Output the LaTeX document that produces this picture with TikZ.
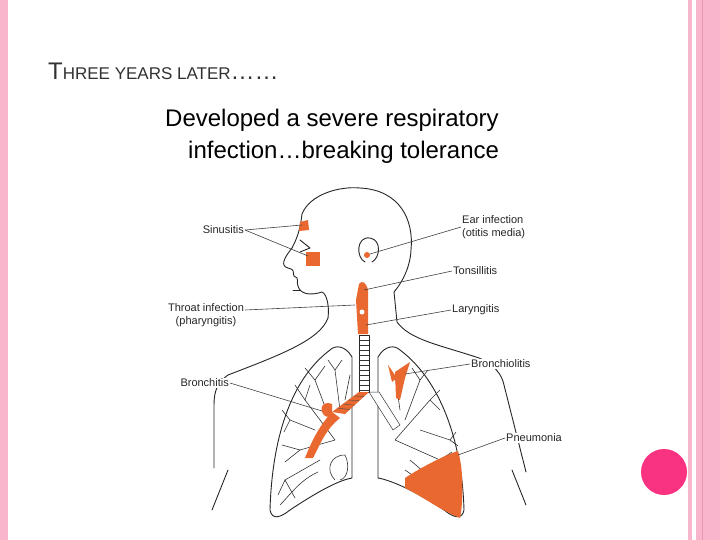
\documentclass[tikz,border=0pt]{standalone}
\usepackage{fontspec}
\usetikzlibrary{calc}
\setmainfont{Liberation Sans}
\definecolor{pinkb}{RGB}{248,182,204}
\definecolor{pinkd}{RGB}{236,150,180}
\definecolor{dotc}{RGB}{250,50,130}
\definecolor{inf}{RGB}{232,104,48}
\definecolor{ttl}{RGB}{50,50,50}
\begin{document}
\begin{tikzpicture}[x=1pt,y=-1pt,
  lbl/.style={font=\fontsize{11}{12.5}\selectfont, inner sep=1pt, text=black!85, fill=white},
  lead/.style={draw=black!75, line width=0.6pt},
  body/.style={draw=black!85, line width=0.9pt, line join=round, line cap=round},
  twig/.style={draw=black!80, line width=0.6pt, line cap=round},
  spot/.style={fill=inf, draw=none}]
\useasboundingbox (0,0) rectangle (720,540);
\fill[white] (0,0) rectangle (720,540);
% borders
\fill[pinkb] (0,0) rectangle (8,540);
\fill[pinkb] (688,0) rectangle (692,540);
\fill[pinkb] (696,0) rectangle (720,540);
\draw[pinkd, line width=1pt] (702,0) -- (702,540);
\fill[dotc] (664,472) circle (23);
% title
\node[anchor=base west, inner sep=0, text=ttl] (title) at (48,80)
 {\fontsize{24}{26}\selectfont T\fontsize{17}{18}\selectfont HREE YEARS LATER\fontsize{24}{26}\selectfont……};
\node[anchor=base west, inner sep=0, font=\fontsize{24}{26}\selectfont] (l1) at (165,127) {Developed a severe respiratory};
\node[anchor=base west, inner sep=0, font=\fontsize{24}{26}\selectfont] (l2) at (188,159) {infection…breaking tolerance};
% body outline
\draw[body] (328,318) .. controls (330,300) and (324,292) .. (322,292)
  .. controls (310,296) and (300,294) .. (298,286)
  .. controls (296,282) and (300,278) .. (294,276)
  .. controls (292,272) and (296,270) .. (288,268)
  .. controls (280,266) and (284,258) .. (292,248)
  .. controls (296,240) and (300,232) .. (302,214)
  .. controls (310,194) and (340,186) .. (360,188)
  .. controls (400,190) and (414,220) .. (411,250)
  .. controls (410,270) and (400,285) .. (394,292)
  -- (397,322) .. controls (410,340) and (440,345) .. (479,358)
  .. controls (495,365) and (502,375) .. (504,385) -- (526,472);
\draw[body] (328,318) .. controls (320,340) and (280,355) .. (228,375)
  .. controls (218,382) and (214,390) .. (214,405) -- (214,468);
\draw[body] (228,470) -- (212,510);
\draw[body] (512,470) -- (526,505);
% ear
\draw[body] (365,262) .. controls (356,258) and (356,236) .. (370,238) .. controls (382,240) and (380,258) .. (372,262);
% eye
\draw[body] (300,240) -- (310,248) -- (300,252);
\draw[body] (293,290) -- (300,290);
% lungs
\draw[body] (352,357) .. controls (345,345) and (335,345) .. (330,350)
  .. controls (290,380) and (272,440) .. (270,510)
  .. controls (272,520) and (280,518) .. (290,510)
  .. controls (320,490) and (340,480) .. (352,478) -- cycle;
\draw[body] (378,357) .. controls (385,345) and (395,345) .. (400,350)
  .. controls (440,380) and (462,440) .. (464,510)
  .. controls (462,520) and (454,518) .. (444,510)
  .. controls (414,490) and (390,480) .. (378,478) -- cycle;
% bronchial trees (schematic)
\foreach \a/\b/\c/\d in {335/440/305/400, 335/440/300/450, 320/460/285/480, 315/430/290/420,330/420/315/380,340/410/335/370,345/400/350/375,
 305/400/295/385, 305/400/310/385, 300/450/282/445, 300/450/285/462, 285/480/278/495, 285/480/295/498, 315/380/305/368, 315/380/325/366,
 290/420/282/410, 290/420/284/432, 335/370/328/360, 335/370/342/360,
 395/440/430/400, 395/440/440/460, 410/460/445/490, 405/420/420/380, 400/410/395/375, 420/430/450/440,
 430/400/440/390, 430/400/440/410, 440/460/452/452, 440/460/450/470, 445/490/455/482, 445/490/452/500, 420/380/428/370, 420/380/412/368,
 450/440/456/432, 450/440/458/446}
  \draw[twig] (\a,\b) -- (\c,\d);
\draw[twig] (318,472) .. controls (300,480) and (290,495) .. (280,505);
\draw[twig] (405,470) .. controls (420,480) and (440,495) .. (452,505);
\draw[twig] (335,480) .. controls (325,470) and (330,455) .. (345,455) .. controls (350,465) and (348,478) .. (340,480);
% trachea
\draw[body, fill=white] (359,335) rectangle (369,392);
\foreach \y in {340,345,...,390} \draw[black!80, line width=0.5pt] (359,\y) -- (369,\y);
% infection spots
\fill[spot] (300,222) -- (308,220) -- (309,230) -- (299,231) -- cycle;
\fill[spot] (306,252) rectangle (320,266);
\fill[spot] (367,255) circle (3);
\fill[spot] (359,284) .. controls (362,280) and (366,282) .. (368,290) -- (368,334) -- (358,334) -- (356,300) -- cycle;
\fill[white] (362,312) circle (2.5);
\fill[spot] (359,392) -- (369,392) -- (345,414) -- (332,412) -- cycle;
\foreach \t in {0.2,0.4,0.6,0.8} \draw[black!70, line width=0.4pt] ($(359,392)!\t!(332,412)$) -- ($(369,392)!\t!(345,414)$);
\fill[spot] (332,404) .. controls (322,400) and (318,410) .. (325,416) -- (332,418) -- cycle;
\fill[spot] (332,412) -- (340,418) .. controls (325,430) and (320,445) .. (313,458) -- (305,458) .. controls (312,440) and (320,425) .. (332,412);
\filldraw[draw=black!80, fill=white, line width=0.5pt] (369,392) -- (379,392) -- (400,425) -- (393,430) -- cycle;
\fill[spot] (395,372) -- (410,362) -- (405,378) -- (400,400) -- (396,398) -- cycle;
\fill[spot] (388,365) -- (397,378) -- (392,382) -- cycle;
\fill[spot] (405,478) .. controls (420,468) and (445,455) .. (458,451)
  .. controls (464,470) and (463,505) .. (460,518)
  .. controls (440,510) and (420,495) .. (405,488) -- cycle;
% labels
\node[lbl, anchor=east] (sin) at (245,230) {Sinusitis};
\node[lbl, anchor=west, align=left] (ear) at (461,227) {Ear infection\\(otitis media)};
\node[lbl, anchor=west] (ton) at (452,271) {Tonsillitis};
\node[lbl, align=center] (thr) at (206,315) {Throat infection\\(pharyngitis)};
\node[lbl, anchor=west] (lar) at (451,310) {Laryngitis};
\node[lbl, anchor=west] (bro) at (470,364) {Bronchiolitis};
\node[lbl, anchor=east] (brc) at (230,383) {Bronchitis};
\node[lbl, anchor=west] (pne) at (505,438) {Pneumonia};
% leader lines
\coordinate (sinA) at (302,225); \coordinate (sinB) at (308,256);
\coordinate (earT) at (370,254); \coordinate (tonT) at (364,290);
\coordinate (thrT) at (355,305); \coordinate (larT) at (366,325);
\coordinate (broT) at (405,374); \coordinate (brcT) at (322,411);
\coordinate (pneT) at (458,455);
\draw[lead] (sin.east) -- (sinA); \draw[lead] (sin.east) -- (sinB);
\draw[lead] (ear.west) -- (earT); \draw[lead] (ton.west) -- (tonT);
\draw[lead] (thr.east |- 0,310) -- (thrT); \draw[lead] (lar.west) -- (larT);
\draw[lead] (bro.west) -- (broT); \draw[lead] (brc.east) -- (brcT);
\draw[lead] (pne.west) -- (pneT);
\end{tikzpicture}
\end{document}
